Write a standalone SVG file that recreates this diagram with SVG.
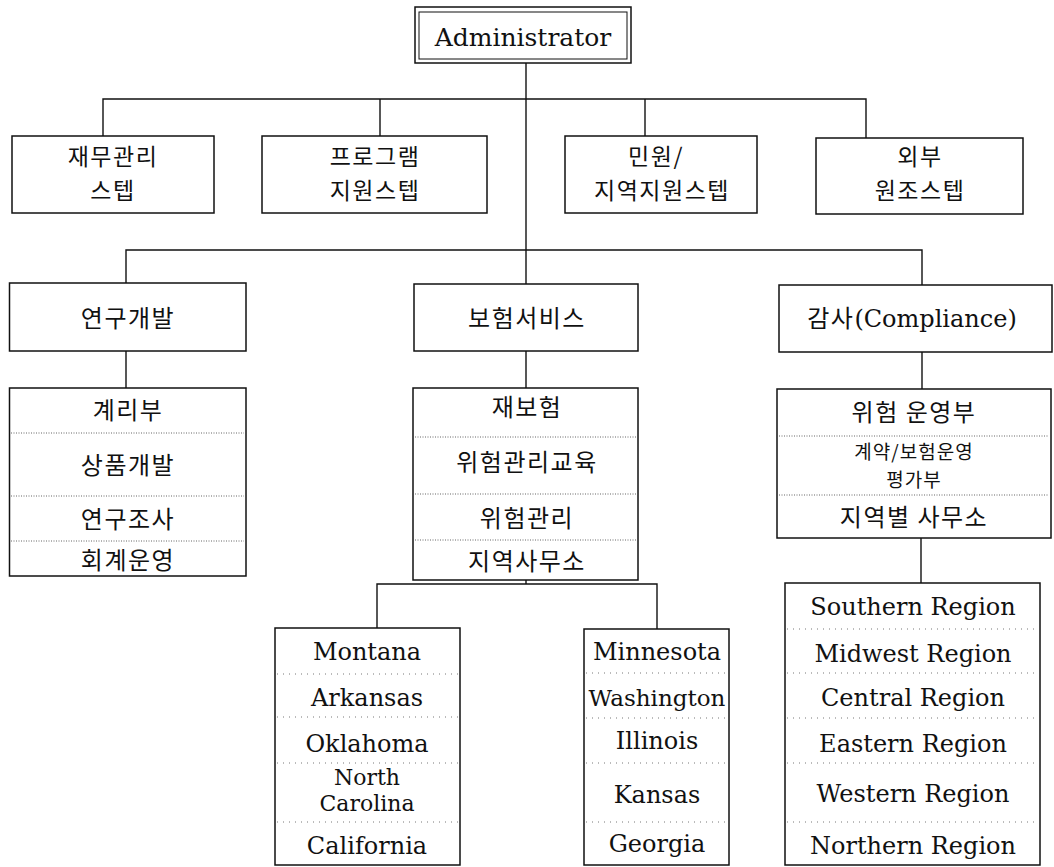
<svg xmlns="http://www.w3.org/2000/svg" width="1054" height="867" viewBox="0 0 1054 867">
  <style>
    .box { fill: #fff; stroke: #111; stroke-width: 1.5; }
    .thin { fill: none; stroke: #111; stroke-width: 1; }
    .wire { fill: none; stroke: #111; stroke-width: 1.4; }
    .dots { stroke: #666; stroke-width: 1; stroke-dasharray: 1 1.5; }
    .sparse { stroke: #777; stroke-width: 1; stroke-dasharray: 1 5; }
    .ko { font-family: "Noto Sans CJK KR", sans-serif; font-size: 24px; letter-spacing: 1.5px; fill: #111; text-anchor: middle; }
    .ko-m { font-size: 23px; }
    .ko-s { font-size: 19px; letter-spacing: 1px; }
    .en { font-family: "DejaVu Serif", serif; font-size: 24px; fill: #111; text-anchor: middle; }
    .en-s { font-size: 22px; }
  </style>

  <!-- connectors -->
  <g id="connectors">
    <path class="wire" d="M526 63 V284"/>
    <path class="wire" d="M103 136 V99 H866 V138"/>
    <path class="wire" d="M380 99 V136"/>
    <path class="wire" d="M645 99 V136"/>
    <path class="wire" d="M126 283 V250 H922 V285"/>
    <path class="wire" d="M126 351 V388"/>
    <path class="wire" d="M526 351 V388"/>
    <path class="wire" d="M922 352 V389"/>
    <path class="wire" d="M526 580 V584"/>
    <path class="wire" d="M377 628 V584 H657 V629"/>
    <path class="wire" d="M921 538 V583"/>
  </g>

  <!-- top -->
  <g id="administrator">
    <rect class="box" x="415" y="7" width="216" height="56"/>
    <rect class="thin" x="419" y="12" width="208" height="47"/>
    <text class="en" x="523" y="46" style="font-size:25px">Administrator</text>
  </g>

  <!-- staff row -->
  <g id="staff-finance">
    <rect class="box" x="12" y="136" width="202" height="77"/>
    <text class="ko ko-m" x="113" y="165">재무관리</text>
    <text class="ko ko-m" x="113" y="199">스텝</text>
  </g>
  <g id="staff-program">
    <rect class="box" x="262" y="136" width="225" height="77"/>
    <text class="ko ko-m" x="375" y="165">프로그램</text>
    <text class="ko ko-m" x="375" y="199">지원스텝</text>
  </g>
  <g id="staff-regional">
    <rect class="box" x="565" y="136" width="192" height="77"/>
    <text class="ko ko-m" x="656" y="165">민원/</text>
    <text class="ko ko-m" x="662" y="199">지역지원스텝</text>
  </g>
  <g id="staff-external">
    <rect class="box" x="816" y="138" width="207" height="76"/>
    <text class="ko ko-m" x="920" y="165">외부</text>
    <text class="ko ko-m" x="920" y="199">원조스텝</text>
  </g>

  <!-- divisions -->
  <g id="div-rnd">
    <rect class="box" x="9.5" y="283" width="236.5" height="68"/>
    <text class="ko" x="128" y="327">연구개발</text>
  </g>
  <g id="div-insurance">
    <rect class="box" x="414" y="284" width="224" height="67"/>
    <text class="ko" x="527" y="327">보험서비스</text>
  </g>
  <g id="div-compliance">
    <rect class="box" x="779" y="285" width="273" height="67"/>
    <text class="ko" x="912" y="327">감사<tspan style="font-family:'DejaVu Serif',serif;font-size:24px;letter-spacing:0">(Compliance)</tspan></text>
  </g>

  <!-- department lists -->
  <g id="list-rnd">
    <rect class="box" x="9.5" y="388" width="236.5" height="188"/>
    <line class="dots" x1="11" y1="433" x2="244" y2="433"/>
    <line class="dots" x1="11" y1="496" x2="244" y2="496"/>
    <line class="dots" x1="11" y1="541" x2="244" y2="541"/>
    <text class="ko" x="128" y="419">계리부</text>
    <text class="ko" x="128" y="474">상품개발</text>
    <text class="ko" x="128" y="528">연구조사</text>
    <text class="ko" x="128" y="569">회계운영</text>
  </g>
  <g id="list-insurance">
    <rect class="box" x="413" y="388" width="225" height="192"/>
    <line class="dots" x1="415" y1="437" x2="636" y2="437"/>
    <line class="dots" x1="415" y1="494" x2="636" y2="494"/>
    <line class="dots" x1="415" y1="540" x2="636" y2="540"/>
    <text class="ko" x="527" y="416">재보험</text>
    <text class="ko" x="527" y="471">위험관리교육</text>
    <text class="ko" x="527" y="527">위험관리</text>
    <text class="ko" x="527" y="570">지역사무소</text>
  </g>
  <g id="list-compliance">
    <rect class="box" x="777" y="389" width="274" height="149"/>
    <line class="dots" x1="779" y1="436" x2="1049" y2="436"/>
    <line class="dots" x1="779" y1="495" x2="1049" y2="495"/>
    <text class="ko" x="914" y="421">위험 운영부</text>
    <text class="ko ko-s" x="914" y="459">계약/보험운영</text>
    <text class="ko ko-s" x="914" y="487">평가부</text>
    <text class="ko" x="914" y="526">지역별 사무소</text>
  </g>

  <!-- regional offices -->
  <g id="states-west">
    <rect class="box" x="275" y="628" width="185" height="237"/>
    <line class="sparse" x1="277" y1="674" x2="458" y2="674"/>
    <line class="sparse" x1="277" y1="717" x2="458" y2="717"/>
    <line class="sparse" x1="277" y1="763" x2="458" y2="763"/>
    <line class="sparse" x1="277" y1="822" x2="458" y2="822"/>
    <text class="en" x="367" y="660">Montana</text>
    <text class="en" x="367" y="706">Arkansas</text>
    <text class="en" x="367" y="752">Oklahoma</text>
    <text class="en en-s" x="367" y="785">North</text>
    <text class="en en-s" x="367" y="811">Carolina</text>
    <text class="en" x="367" y="854">California</text>
  </g>
  <g id="states-east">
    <rect class="box" x="584" y="629" width="145" height="236"/>
    <line class="sparse" x1="586" y1="673" x2="727" y2="673"/>
    <line class="sparse" x1="586" y1="718" x2="727" y2="718"/>
    <line class="sparse" x1="586" y1="763" x2="727" y2="763"/>
    <line class="sparse" x1="586" y1="822" x2="727" y2="822"/>
    <text class="en" x="657" y="660">Minnesota</text>
    <text class="en" x="657" y="706" style="font-size:23px">Washington</text>
    <text class="en" x="657" y="749">Illinois</text>
    <text class="en" x="657" y="803">Kansas</text>
    <text class="en" x="657" y="852">Georgia</text>
  </g>
  <g id="regions">
    <rect class="box" x="785" y="583" width="255" height="282"/>
    <line class="sparse" x1="787" y1="629" x2="1038" y2="629"/>
    <line class="sparse" x1="787" y1="673" x2="1038" y2="673"/>
    <line class="sparse" x1="787" y1="718" x2="1038" y2="718"/>
    <line class="sparse" x1="787" y1="763" x2="1038" y2="763"/>
    <line class="sparse" x1="787" y1="822" x2="1038" y2="822"/>
    <text class="en" x="913" y="615">Southern Region</text>
    <text class="en" x="913" y="662">Midwest Region</text>
    <text class="en" x="913" y="706">Central Region</text>
    <text class="en" x="913" y="752">Eastern Region</text>
    <text class="en" x="913" y="802">Western Region</text>
    <text class="en" x="913" y="854">Northern Region</text>
  </g>
</svg>
